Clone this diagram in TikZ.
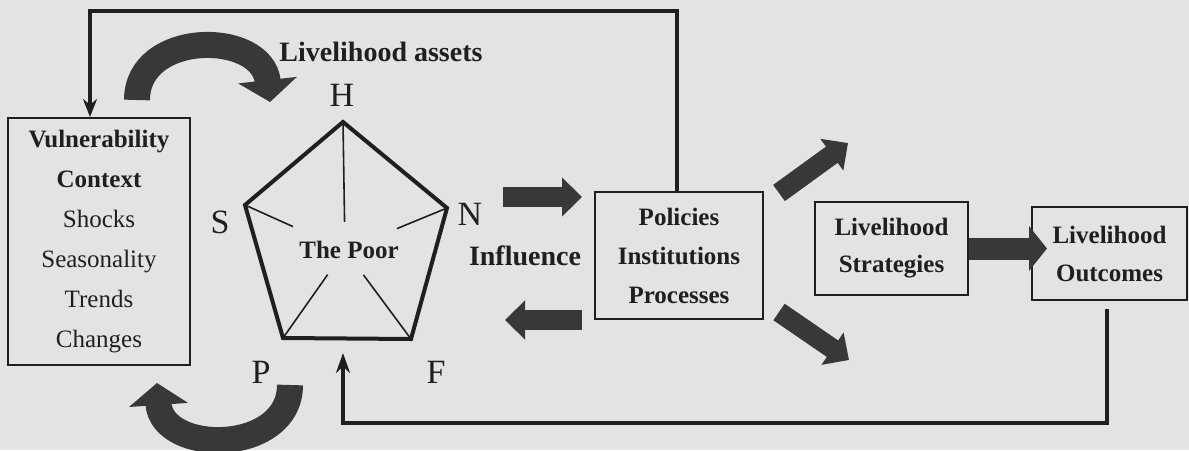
\documentclass[tikz,border=0pt]{standalone}
\usepackage{fontspec}
\setmainfont{Liberation Serif}
\usetikzlibrary{positioning}
\usetikzlibrary{calc}
\usetikzlibrary{arrows.meta}
\definecolor{paper}{rgb}{0.89,0.89,0.89}
\definecolor{ink}{rgb}{0.12,0.12,0.12}
\definecolor{fatgray}{rgb}{0.22,0.22,0.22}

\begin{document}
\begin{tikzpicture}
    [x=0.5pt, y=-0.5pt,
    box/.style={draw=ink, line width=1pt, inner sep=0pt, align=center, text=ink, font=\fontsize{12.5}{19.5}\selectfont\bfseries},
    lbl/.style={inner sep=0pt, text=ink, font=\fontsize{17}{17}\selectfont},
    word/.style={inner sep=0pt, text=ink, font=\fontsize{14}{14}\selectfont\bfseries},
    fat/.style={draw=fatgray, line width=10pt, -{Triangle[width=19pt, length=10pt]}},
    curl/.style={draw=fatgray, line width=13pt, -{Triangle[width=29pt, length=11pt]}},
    feedback/.style={draw=ink, line width=2pt},
    edge/.style={draw=ink, line width=2pt, line join=miter},
    spoke/.style={draw=ink, line width=0.8pt}]
    \useasboundingbox (0,0) rectangle (1189,450);
    \fill[paper] (0,0) rectangle (1189,450);
    %% boxes
    \node[box, minimum width=91pt, minimum height=123.5pt, font=\fontsize{12.5}{20}\selectfont] (vul) at (99,241.5)
        {\textbf{Vulnerability}\\\textbf{Context}\\Shocks\\Seasonality\\Trends\\Changes};
    \node[box, minimum width=84pt, minimum height=63.5pt] (pol) at (679,255.5) {Policies\\Institutions\\Processes};
    \node[box, minimum width=76.5pt, minimum height=46.5pt, font=\fontsize{12.5}{18.5}\selectfont\bfseries] (str) at (891.5,248.5) {Livelihood\\Strategies};
    \node[box, minimum width=77.5pt, minimum height=46.5pt, font=\fontsize{12.5}{19}\selectfont\bfseries] (out) at (1109.5,253.5) {Livelihood\\Outcomes};
    %% pentagon of assets
    \coordinate (vH) at (343,122);
    \coordinate (vS) at (245,205);
    \coordinate (vN) at (447,208);
    \coordinate (vP) at (283,338);
    \coordinate (vF) at (411,339);
    \coordinate (c) at (345,250);
    \draw[edge] (vH) -- (vN) -- (vF) -- (vP) -- (vS) -- cycle;
    \draw[spoke] (vH) -- ($(vH)!0.78!(c)$);
    \draw[spoke] (vS) -- ($(vS)!0.48!(c)$);
    \draw[spoke] (vN) -- ($(vN)!0.49!(c)$);
    \draw[spoke] (vP) -- ($(vP)!0.72!(c)$);
    \draw[spoke] (vF) -- ($(vF)!0.72!(c)$);
    \node[word, font=\fontsize{12.5}{12.5}\selectfont\bfseries] (poor) at (349,250) {The Poor};
    \node[lbl] (H) at (342,95) {H};
    \node[lbl] (S) at (220,222) {S};
    \node[lbl] (N) at (470,214) {N};
    \node[lbl] (P) at (261,372) {P};
    \node[lbl] (F) at (436,372) {F};
    \node[word] (assets) at (381,52) {Livelihood assets};
    \node[word] (infl) at (525,256) {Influence};
    %% fat arrows
    \coordinate (inA) at (503,197);
    \coordinate (inB) at (582,197);
    \coordinate (backA) at (582,320);
    \coordinate (backB) at (505,320);
    \coordinate (upA) at (779,193);
    \coordinate (upB) at (848,143);
    \coordinate (dnA) at (779,312);
    \coordinate (dnB) at (849,360);
    \draw[fat] (inA) -- (inB);
    \draw[fat] (backA) -- (backB);
    \draw[fat] (upA) -- (upB);
    \draw[fat] (dnA) -- (dnB);
    \draw[fat, line width=11pt, -{Triangle[width=22pt, length=9pt]}] (str.east) -- ([xshift=8pt]str.east -| out.west);
    %% curved arrows
    \coordinate (curlA) at (137,100);
    \coordinate (curlB) at (270,102);
    \coordinate (curlC) at (290,385);
    \coordinate (curlD) at (157,383);
    \draw[curl] (curlA) .. controls (137,30) and (262,30) .. (curlB);
    \draw[curl] (curlC) .. controls (290,455) and (162,455) .. (curlD);
    %% feedback lines
    \coordinate (topR) at (677,11);
    \coordinate (topL) at (90,11);
    \coordinate (botR) at (1107,423);
    \coordinate (botL) at (343,423);
    \coordinate (poorIn) at (343,353);
    \draw[feedback, -{Stealth[length=9pt, width=7pt]}] (pol.north -| topR) -- (topR) -- (topL) -- (vul.north -| topL);
    \draw[feedback, -{Stealth[length=10pt, width=7pt]}] ([yshift=-4pt]out.south -| botR) -- (botR) -- (botL) -- (poorIn);
\end{tikzpicture}
\end{document}
